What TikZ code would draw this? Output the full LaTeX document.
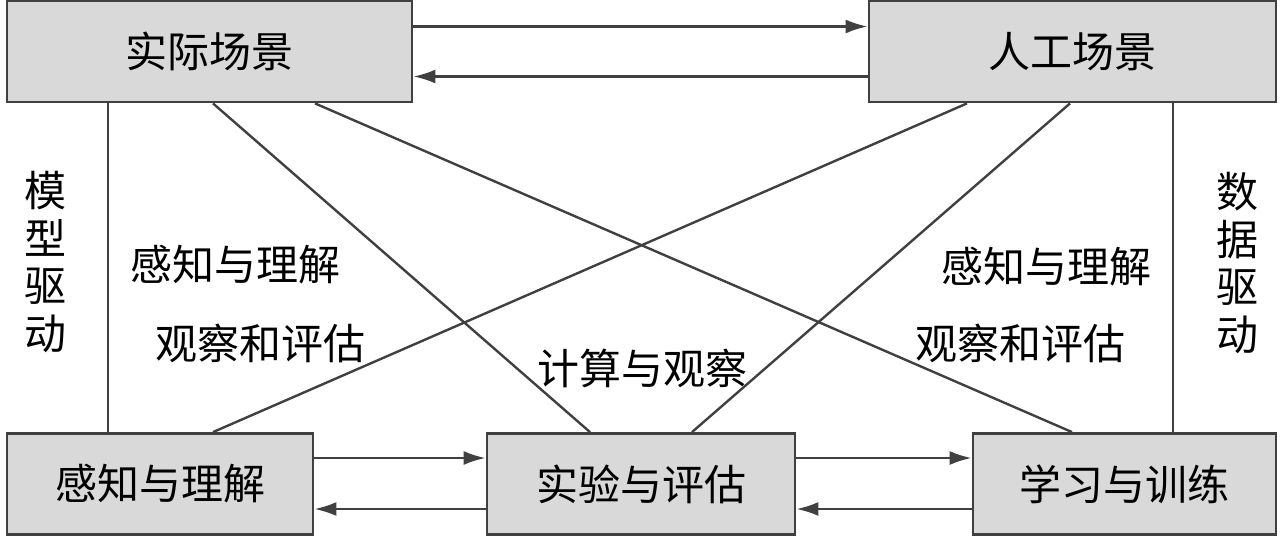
\documentclass[tikz,border=0pt]{standalone}
\usepackage{fontspec}
\setmainfont{Noto Sans CJK SC}
\usetikzlibrary{arrows.meta}
\definecolor{boxgray}{RGB}{217,217,217}
\definecolor{edgegray}{RGB}{64,64,64}
\newcommand{\bigcn}{\fontsize{42}{45}\selectfont}

\begin{document}
\begin{tikzpicture}[x=1pt, y=-1pt,
    box/.style={draw=edgegray, line width=2.8pt, fill=boxgray, minimum height=101pt, inner sep=0pt, font=\bigcn},
    link/.style={draw=edgegray, line width=2.4pt},
    arr/.style={link, -{Latex[length=22pt, width=14pt]}},
    lbl/.style={font=\bigcn, inner sep=0pt}]
    \useasboundingbox (0,0) rectangle (1280,538);
    % boxes
    \node[box, minimum width=405pt] (real) at (209.5,51.5) {实际场景};
    \node[box, minimum width=407pt] (art) at (1072.5,51.5) {人工场景};
    \node[box, minimum width=306pt] (perc) at (160,484) {感知与理解};
    \node[box, minimum width=308pt] (expt) at (641,484) {实验与评估};
    \node[box, minimum width=303pt] (learn) at (1124.5,484) {学习与训练};
    % arrows between boxes
    \draw[arr] ([yshift=25pt]real.east) -- ([yshift=25pt]real.east -| art.west);
    \draw[arr] ([yshift=-25pt]art.west) -- ([yshift=-25pt]art.west -| real.east);
    \draw[arr] ([yshift=26pt]perc.east) -- ([yshift=26pt]perc.east -| expt.west);
    \draw[arr] ([yshift=-25pt]expt.west) -- ([yshift=-25pt]expt.west -| perc.east);
    \draw[arr] ([yshift=26pt]expt.east) -- ([yshift=26pt]expt.east -| learn.west);
    \draw[arr] ([yshift=-25pt]learn.west) -- ([yshift=-25pt]learn.west -| expt.east);
    % side lines
    \draw[link] (real.south -| 108,0) -- (perc.north -| 108,0);
    \draw[link] (art.south -| 1173,0) -- (learn.north -| 1173,0);
    % crossing lines
    \draw[link] (real.south -| 213,0) -- (expt.north -| 590,0);
    \draw[link] (real.south -| 315,0) -- (learn.north -| 1072,0);
    \draw[link] (art.south -| 967,0) -- (perc.north -| 213,0);
    \draw[link] (art.south -| 1070,0) -- (expt.north -| 692,0);
    % labels
    \node[lbl] (mdrive) at (45,267) {\begin{tabular}{@{}c@{}}模\\型\\驱\\动\end{tabular}};
    \node[lbl] (ddrive) at (1237,268) {\begin{tabular}{@{}c@{}}数\\据\\驱\\动\end{tabular}};
    \node[lbl] (percl) at (235,265) {感知与理解};
    \node[lbl] (obsl) at (260,343) {观察和评估};
    \node[lbl] (percr) at (1046,267) {感知与理解};
    \node[lbl] (obsr) at (1020,343) {观察和评估};
    \node[lbl] (calc) at (642,368) {计算与观察};
\end{tikzpicture}
\end{document}
